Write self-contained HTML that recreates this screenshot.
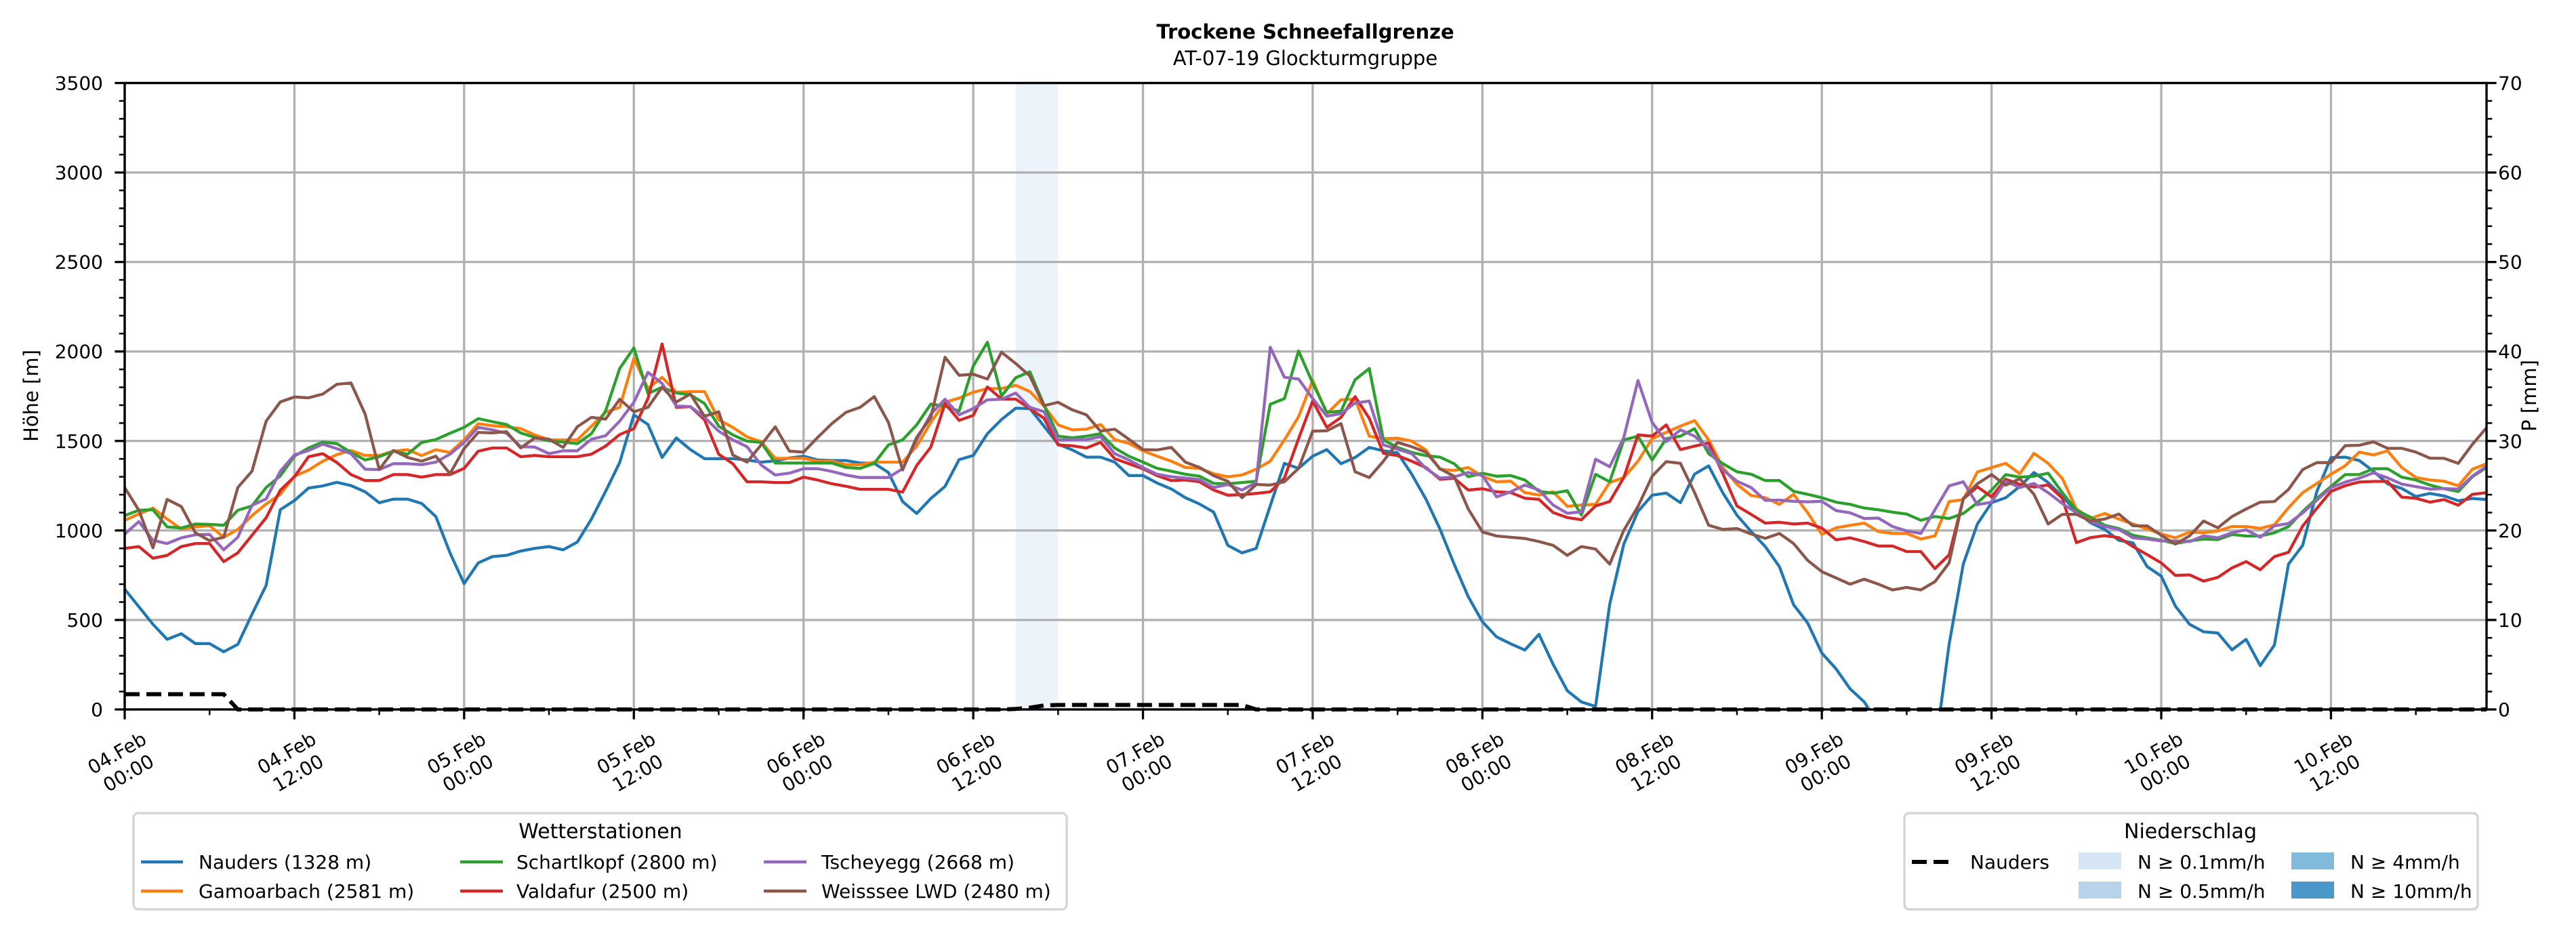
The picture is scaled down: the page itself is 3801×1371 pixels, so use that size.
<!DOCTYPE html>
<html><head><meta charset="utf-8">
<style>
html,body{margin:0;padding:0;background:#fff;}
svg{display:block;font-family:"DejaVu Sans","Liberation Sans",sans-serif;}
</style></head>
<body>
<svg id="chart" xmlns="http://www.w3.org/2000/svg" width="3801" height="1371" viewBox="0 0 3801 1371">
<rect x="0" y="0" width="3801" height="1371" fill="#fff"/>
<text x="1926" y="57" text-anchor="middle" font-size="29" font-weight="bold">Trockene Schneefallgrenze</text>
<text x="1926" y="96" text-anchor="middle" font-size="29">AT-07-19 Glockturmgruppe</text>
<g id="plot"></g>
<text transform="translate(56,584) rotate(-90)" text-anchor="middle" font-size="29">Höhe [m]</text>
<text transform="translate(3742,584) rotate(-90)" text-anchor="middle" font-size="29">P [mm]</text>

<g>
<rect x="197" y="1200" width="1377" height="142" rx="7" fill="#fff" stroke="#d6d6d6" stroke-width="3.5"/>
<text x="886" y="1237" text-anchor="middle" font-size="30">Wetterstationen</text>
<g><line x1="208" y1="1272" x2="270" y2="1272" stroke="#1f77b4" stroke-width="4.5"/><text x="293" y="1282" font-size="28">Nauders (1328 m)</text></g>
<g><line x1="208" y1="1315" x2="270" y2="1315" stroke="#ff7f0e" stroke-width="4.5"/><text x="293" y="1325" font-size="28">Gamoarbach (2581 m)</text></g>
<g><line x1="679" y1="1272" x2="742" y2="1272" stroke="#2ca02c" stroke-width="4.5"/><text x="762" y="1282" font-size="28">Schartlkopf (2800 m)</text></g>
<g><line x1="679" y1="1315" x2="742" y2="1315" stroke="#d62728" stroke-width="4.5"/><text x="762" y="1325" font-size="28">Valdafur (2500 m)</text></g>
<g><line x1="1127" y1="1272" x2="1190" y2="1272" stroke="#9467bd" stroke-width="4.5"/><text x="1212" y="1282" font-size="28">Tscheyegg (2668 m)</text></g>
<g><line x1="1127" y1="1315" x2="1190" y2="1315" stroke="#8c564b" stroke-width="4.5"/><text x="1212" y="1325" font-size="28">Weisssee LWD (2480 m)</text></g>
</g>

<g>
<rect x="2810" y="1200" width="846" height="142" rx="7" fill="#fff" stroke="#d6d6d6" stroke-width="3.5"/>
<text x="3232" y="1237" text-anchor="middle" font-size="30">Niederschlag</text>
<g><line x1="2821" y1="1272" x2="2877" y2="1272" stroke="#000" stroke-width="6" stroke-dasharray="22 10"/><text x="2907" y="1282" font-size="28">Nauders</text></g>
<g><rect x="3067" y="1258" width="63" height="25" fill="#d6e6f4"/><text x="3154" y="1282" font-size="28">N ≥ 0.1mm/h</text></g>
<g><rect x="3067" y="1301" width="63" height="25" fill="#b7d4ea"/><text x="3154" y="1325" font-size="28">N ≥ 0.5mm/h</text></g>
<g><rect x="3381" y="1258" width="63" height="25" fill="#82badb"/><text x="3468" y="1282" font-size="28">N ≥ 4mm/h</text></g>
<g><rect x="3381" y="1301" width="63" height="25" fill="#4a98c9"/><text x="3468" y="1325" font-size="28">N ≥ 10mm/h</text></g>
</g>
</svg>
<script>
const nauders = [672,574,476,392,423,368,368,322,364,532,693,1116,1167,1237,1249,1269,1251,1216,1155,1175,1175,1151,1078,875,703,819,854,861,885,
900,910,892,935,1064,1218,1380,1646,1592,1408,1517,1452,1401,1401,1401,1394,1382,1389,1405,1415,1394,1391,1391,1377,1375,1324,1162,1095,
1179,1246,1396,1419,1541,1620,1683,1681,1583,1482,1450,1410,1410,1382,1307,1307,1265,1232,1183,1148,1102,917,875,900,1138,1375,1347,1415,
1452,1373,1408,1464,1445,1434,1315,1176,1008,812,630,490,406,367,332,420,252,105,42,17,588,924,1106,1197,1209,1155,1315,1361,
1210,1085,994,910,798,585,483,315,227,115,42,-80,-300,-400,-350,-230,364,812,1036,1155,1183,1246,1324,1268,1190,1106,1043,
1006,945,931,798,745,577,476,434,427,333,392,245,360,812,917,1218,1407,1410,1391,1331,1261,1235,1190,1207,1193,1166,1179,1173];
const gamoarbach = [1057,1092,1125,1064,1008,1020,1027,962,1006,1083,1148,1202,1303,1337,1387,1424,1447,1419,1419,1443,1451,1419,1451,1436,1506,1597,1585,1580,1569,
1534,1506,1506,1506,1583,1660,1688,1961,1793,1856,1772,1776,1776,1618,1576,1523,1496,1403,1403,1403,1387,1387,1368,1368,1382,1382,1382,1471,
1604,1716,1740,1772,1793,1793,1811,1776,1695,1590,1562,1566,1592,1508,1487,1445,1415,1387,1352,1347,1317,1300,1310,1342,1387,1506,1636,1838,
1653,1730,1734,1527,1513,1516,1499,1450,1342,1335,1352,1303,1272,1275,1212,1198,1216,1135,1142,1146,1268,1296,1387,1513,1548,1583,1614,1506,
1352,1258,1195,1183,1146,1202,1099,978,1015,1029,1041,994,983,983,952,970,1162,1172,1327,1351,1375,1317,1431,1375,1291,1120,1067,
1095,1064,1036,1008,980,959,991,987,997,1022,1022,1012,1032,1127,1211,1263,1314,1361,1438,1422,1445,1352,1296,1282,1275,1250,1342,1373];
const schartlkopf = [1083,1113,1116,1020,1014,1036,1034,1029,1113,1137,1240,1305,1415,1461,1494,1485,1436,1394,1412,1443,1426,1492,1508,1543,1576,1625,1608,1592,1545,
1520,1501,1494,1485,1541,1667,1905,2020,1765,1800,1768,1758,1709,1583,1534,1499,1492,1377,1377,1377,1377,1377,1352,1347,1375,1478,1506,1590,
1706,1695,1667,1919,2052,1751,1853,1887,1702,1527,1518,1527,1541,1461,1415,1382,1347,1331,1314,1303,1263,1261,1268,1275,1705,1737,2003,1824,
1660,1667,1842,1905,1506,1464,1436,1418,1410,1373,1300,1320,1303,1307,1282,1219,1208,1222,1086,1314,1272,1506,1527,1394,1513,1527,1569,1429,
1373,1328,1314,1279,1279,1219,1202,1183,1158,1146,1125,1116,1102,1092,1057,1078,1067,1095,1155,1225,1312,1298,1303,1320,1212,1113,1074,
1029,1011,973,959,945,927,941,952,949,977,969,969,987,1022,1106,1179,1246,1312,1312,1345,1345,1298,1282,1254,1233,1218,1300,1352];
const tscheyegg = [980,1050,945,927,959,976,978,892,962,1141,1176,1331,1422,1447,1482,1457,1429,1342,1340,1373,1373,1368,1382,1426,1492,1576,1562,1543,1468,
1466,1429,1445,1445,1510,1529,1611,1716,1884,1821,1695,1692,1632,1555,1506,1468,1366,1310,1320,1345,1345,1330,1310,1296,1296,1296,1345,1506,
1650,1733,1646,1681,1730,1733,1768,1688,1664,1506,1508,1508,1524,1429,1394,1352,1314,1300,1293,1284,1240,1257,1226,1268,2024,1856,1846,1737,
1639,1653,1712,1723,1478,1454,1429,1347,1293,1299,1324,1307,1188,1216,1254,1226,1142,1096,1104,1398,1356,1520,1838,1604,1496,1562,1527,1457,
1338,1275,1240,1168,1170,1163,1160,1163,1111,1099,1067,1069,1022,997,983,1116,1249,1272,1144,1158,1275,1240,1263,1211,1151,1099,1050,
1022,1006,959,952,941,941,938,970,959,987,1004,962,1026,1039,1098,1169,1239,1270,1292,1322,1294,1259,1245,1231,1234,1231,1303,1359];
const valdafur = [900,910,845,861,910,927,927,826,875,973,1071,1225,1300,1412,1429,1380,1312,1279,1279,1312,1312,1298,1312,1312,1347,1443,1461,1461,1412,
1419,1412,1412,1412,1426,1471,1536,1569,1737,2042,1688,1692,1618,1426,1373,1272,1272,1268,1268,1298,1282,1261,1247,1230,1230,1230,1214,1363,
1466,1709,1615,1643,1802,1734,1734,1681,1627,1478,1473,1461,1492,1401,1373,1345,1306,1279,1282,1272,1226,1197,1200,1207,1216,1293,1513,1723,
1576,1632,1748,1627,1431,1418,1387,1352,1286,1292,1226,1233,1216,1212,1180,1174,1100,1072,1060,1137,1162,1296,1534,1527,1590,1452,1471,1489,
1317,1137,1090,1041,1046,1036,1041,1013,948,959,938,913,913,882,882,787,864,1176,1244,1188,1286,1258,1243,1254,1180,932,960,
971,960,910,865,819,749,752,717,738,791,826,781,854,878,1025,1124,1218,1250,1271,1274,1274,1186,1180,1158,1173,1141,1202,1211];
const weisssee = [1240,1113,903,1174,1134,987,943,962,1240,1331,1611,1718,1746,1741,1762,1817,1824,1650,1340,1447,1408,1387,1415,1317,1457,1548,1545,1552,1461,
1517,1510,1464,1579,1632,1622,1733,1663,1688,1800,1718,1762,1638,1663,1422,1382,1478,1579,1443,1438,1520,1597,1660,1688,1748,1604,1338,1520,
1632,1968,1867,1873,1846,1996,1933,1863,1697,1716,1674,1646,1555,1566,1510,1452,1450,1464,1382,1352,1306,1275,1183,1257,1254,1272,1347,1555,
1557,1597,1328,1296,1387,1492,1468,1438,1345,1303,1120,992,969,962,955,938,917,861,910,896,812,1001,1134,1303,1385,1375,1212,1029,
1006,1011,980,956,983,927,833,770,735,700,728,700,668,682,668,714,819,1179,1261,1312,1253,1289,1202,1036,1090,1090,1053,
1064,1092,1026,1026,973,924,970,1053,1015,1078,1120,1158,1162,1229,1340,1379,1379,1474,1476,1495,1459,1459,1438,1404,1403,1375,1481,1574];
const precipNauders = [1.7,1.7,1.7,1.7,1.7,1.7,1.7,1.7,0,0,0,0,0,0,0,0,0,0,0,0,0,0,0,0,0,0,0,0,0,0,
0,0,0,0,0,0,0,0,0,0,0,0,0,0,0,0,0,0,0,0,0,0,0,0,0,0,0,0,0,0,
0,0,0,0.05,0.2,0.45,0.5,0.5,0.5,0.5,0.5,0.5,0.5,0.5,0.5,0.5,0.5,0.5,0.5,0.5,0,0,0,0,0,0,0,0,0,0,
0,0,0,0,0,0,0,0,0,0,0,0,0,0,0,0,0,0,0,0,0,0,0,0,0,0,0,0,0,0,
0,0,0,0,0,0,0,0,0,0,0,0,0,0,0,0,0,0,0,0,0,0,0,0,0,0,0,0,0,0,
0,0,0,0,0,0,0,0,0,0,0,0,0,0,0,0,0,0];
const precipBandStart = [63];
const precipBandEnd = [66];
const xTickHours = [0,12,24,36,48,60,72,84,96,108,120,132,144,156];
const xTickDays = ["04.Feb","04.Feb","05.Feb","05.Feb","06.Feb","06.Feb","07.Feb","07.Feb","08.Feb","08.Feb","09.Feb","09.Feb","10.Feb","10.Feb"];
const xTickTimes = ["00:00","12:00","00:00","12:00","00:00","12:00","00:00","12:00","00:00","12:00","00:00","12:00","00:00","12:00"];
const yTicks = [0,500,1000,1500,2000,2500,3000,3500];
const y2Ticks = [0,10,20,30,40,50,60,70];

const NS = "http://www.w3.org/2000/svg";
const L = 184, R = 3669, T = 122.5, B = 1047;
const HMAX = 167, YMAX = 3500, PMAX = 70;
const xs = h => L + h / HMAX * (R - L);
const ys = v => B - v / YMAX * (B - T);
const ps = v => B - v / PMAX * (B - T);
const plot = document.getElementById('plot');
function mk(tag, attrs, parent) {
  const e = document.createElementNS(NS, tag);
  for (const k in attrs) e.setAttribute(k, attrs[k]);
  (parent || plot).appendChild(e);
  return e;
}
const defs = mk('defs', {});
const cp = mk('clipPath', {id: 'clipPlot'}, defs);
mk('rect', {x: L, y: T, width: R - L, height: B - T}, cp);

for (let i = 0; i < precipBandStart.length; i++) {
  const band = mk('rect', {x: xs(precipBandStart[i]), y: T, width: xs(precipBandEnd[i]) - xs(precipBandStart[i]), height: B - T, fill: '#edf3fa'});
  
  
}
for (const h of xTickHours) {
  const g = mk('line', {x1: xs(h), x2: xs(h), y1: T, y2: B, stroke: '#b0b0b0', 'stroke-width': 3.3});
  
  
}
for (const v of yTicks) {
  const g = mk('line', {x1: L, x2: R, y1: ys(v), y2: ys(v), stroke: '#b0b0b0', 'stroke-width': 3.3});
  
  
}
const seriesList = [
  ['nauders', nauders, '#1f77b4'],
  ['gamoarbach', gamoarbach, '#ff7f0e'],
  ['schartlkopf', schartlkopf, '#2ca02c'],
  ['valdafur', valdafur, '#d62728'],
  ['tscheyegg', tscheyegg, '#9467bd'],
  ['weisssee', weisssee, '#8c564b']
];
for (const [name, data, color] of seriesList) {
  const d = data.map((v, i) => (i ? 'L' : 'M') + xs(i).toFixed(1) + ',' + ys(v).toFixed(1)).join('');
  const p = mk('path', {d: d, fill: 'none', stroke: color, 'stroke-width': 4.3, 'stroke-linejoin': 'round', 'clip-path': 'url(#clipPlot)'});
  
  
}
{
  const d = precipNauders.map((v, i) => (i ? 'L' : 'M') + xs(i).toFixed(1) + ',' + ps(v).toFixed(1)).join('');
  const p = mk('path', {d: d, fill: 'none', stroke: '#000', 'stroke-width': 6, 'stroke-dasharray': '22 10'});
  
  
}
const frame = mk('rect', {x: L, y: T, width: R - L, height: B - T, fill: 'none', stroke: '#000', 'stroke-width': 3.4});


for (let h = 0; h <= HMAX; h += 6) {
  const major = h % 12 === 0;
  const t = mk('line', {x1: xs(h), x2: xs(h), y1: B, y2: B + (major ? 14.6 : 8.3), stroke: '#000', 'stroke-width': major ? 3.3 : 2.5});
  
  
}
xTickHours.forEach((h, i) => {
  const g = mk('g', {transform: 'translate(' + (xs(h) - 3) + ',1126) rotate(-30)'});
  
  
  const t1 = mk('text', {x: 0, y: -7, 'text-anchor': 'middle', 'font-size': 28}, g);
  t1.textContent = xTickDays[i];
  const t2 = mk('text', {x: 0, y: 27, 'text-anchor': 'middle', 'font-size': 28}, g);
  t2.textContent = xTickTimes[i];
});
for (let v = 0; v <= YMAX; v += 100) {
  const major = v % 500 === 0;
  const t = mk('line', {x1: L, x2: L - (major ? 14.6 : 8.3), y1: ys(v), y2: ys(v), stroke: '#000', 'stroke-width': major ? 3.3 : 2.5});
  
  
}
for (const v of yTicks) {
  const t = mk('text', {x: 152, y: ys(v) + 10, 'text-anchor': 'end', 'font-size': 28});
  
  
  t.textContent = v;
}
for (let v = 0; v <= PMAX; v += 2) {
  const major = v % 10 === 0;
  const t = mk('line', {x1: R, x2: R + (major ? 14.6 : 8.3), y1: ps(v), y2: ps(v), stroke: '#000', 'stroke-width': major ? 3.3 : 2.5});
  
  
}
for (const v of y2Ticks) {
  const t = mk('text', {x: 3686, y: ps(v) + 10, 'text-anchor': 'start', 'font-size': 28});
  
  
  t.textContent = v;
}
</script>
</body></html>
